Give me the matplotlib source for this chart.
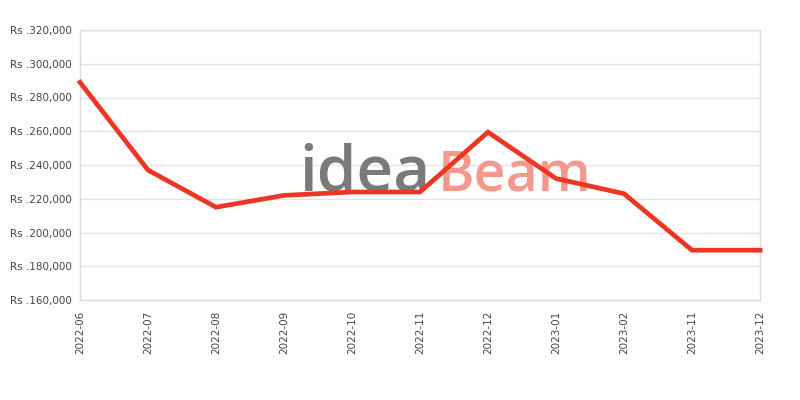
import matplotlib
matplotlib.use("Agg")
import matplotlib.pyplot as plt
from matplotlib.ticker import FuncFormatter

# Price history
months = ["2022-06", "2022-07", "2022-08", "2022-09", "2022-10", "2022-11",
          "2022-12", "2023-01", "2023-02", "2023-11", "2023-12"]
prices = [289000, 237000, 215000, 222000, 224000, 224000,
          259500, 232000, 223000, 189500, 189500]

y_ticks = list(range(160000, 320001, 20000))


def rs_format(v, pos):
    return "Rs .{:,.0f}".format(v)


fig = plt.figure(figsize=(8, 4), dpi=100)
ax = fig.add_axes([0.1, 0.25, 0.85, 0.675])

x = list(range(len(months)))
ax.plot(x, prices, color="#ee3524", linewidth=3.4, solid_joinstyle="miter",
        clip_on=False, zorder=3)

ax.set_xlim(0, len(months) - 1)
ax.set_ylim(160000, 320000)
ax.set_yticks(y_ticks)
ax.yaxis.set_major_formatter(FuncFormatter(rs_format))
ax.set_xticks(x)
ax.set_xticklabels(months, rotation=90)

ax.grid(True, axis="y", color="#e3e3e3", linewidth=1)
ax.set_axisbelow(True)
for side in ["left", "right", "top", "bottom"]:
    ax.spines[side].set_color("#dcdcdc")
    ax.spines[side].set_linewidth(1)
ax.tick_params(length=0, labelsize=7.5, labelcolor="#444444", pad=6)
ax.tick_params(axis="x", pad=8)

# watermark
ax.text(0.322, 0.405, "idea", transform=ax.transAxes, fontsize=46,
        family="Open Sans", weight="semibold", color="#7a7a7a",
        ha="left", va="baseline", zorder=2)
ax.text(0.526, 0.405, "Beam", transform=ax.transAxes, fontsize=40,
        family="Open Sans", weight="semibold", color="#f5998f",
        ha="left", va="baseline", zorder=2)

fig.savefig("out.png", dpi=100)
